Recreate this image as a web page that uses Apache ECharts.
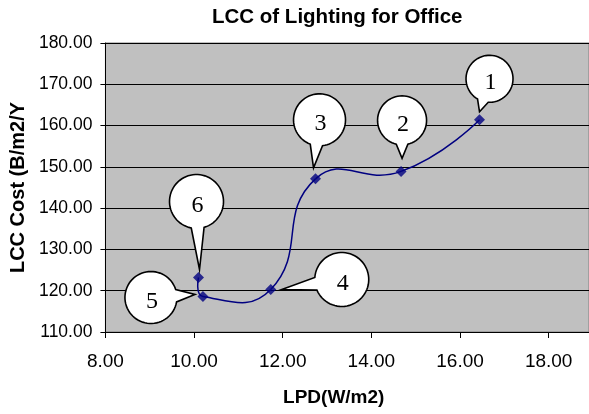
<!DOCTYPE html>
<html>
<head>
<meta charset="utf-8">
<title>LCC of Lighting for Office</title>
<script src="https://cdn.jsdelivr.net/npm/echarts@6/dist/echarts.min.js"></script>
<style>
  html, body { margin: 0; padding: 0; background: #ffffff; }
  #chart { width: 589px; height: 414px; }
</style>
</head>
<body>
<div id="chart"></div>
<script>
// Lighting power density (W/m2) of each design option
const lpd = [10.10, 10.20, 11.73, 12.74, 14.67, 16.44];
// Life-cycle cost of each option (B/m2/Y)
const lcc = [123.2, 118.6, 120.3, 147.1, 148.9, 161.4];
// Option numbers shown in the callouts
const optionIds = ['6', '5', '4', '3', '2', '1'];

// Axis ranges and tick steps
const xMin = 8, xMax = 18.91, xStep = 2;
const yMin = 110, yMax = 180, yStep = 10;

// Curve smoothing strength (0 = straight segments)
const smoothness = 0.5;

// Callout placement in pixels relative to each marker:
// circle centre offset (cx, cy), radius r, tail tip offset (tx, ty)
const callouts = [
  { cx: -2,  cy: -76, r: 27, tx: 1,  ty: -8 },
  { cx: -52, cy: 1,   r: 26, tx: -8, ty: -2 },
  { cx: 71,  cy: -10, r: 27, tx: 11, ty: 0 },
  { cx: 4,   cy: -59, r: 26, tx: -2, ty: -11 },
  { cx: 1,   cy: -51, r: 24.5, tx: 1, ty: -13 },
  { cx: 10,  cy: -41, r: 23.5, tx: 0, ty: -8 }
];

const points = lpd.map((x, i) => [x, lcc[i]]);

// Speech-bubble outline: circle with a wedge-shaped tail ending at `tip`
function balloonShape(c, r, tip) {
  const theta = Math.atan2(tip[1] - c[1], tip[0] - c[0]);
  const spread = 0.24;
  const pts = [];
  const steps = 64;
  const start = theta + spread;
  const end = theta - spread + Math.PI * 2;
  for (let k = 0; k <= steps; k++) {
    const a = start + (end - start) * k / steps;
    pts.push([c[0] + r * Math.cos(a), c[1] + r * Math.sin(a)]);
  }
  pts.push(tip);
  return pts;
}

// Bezier control point on the outgoing (dir = 1) or incoming (dir = -1) side
// of vertex i, tangent parallel to the chord between its neighbours and scaled
// by the relative length of the adjacent segment.
function controlPoint(px, i, dir) {
  const n = px.length;
  if (i === 0 || i === n - 1) return px[i];
  const prev = px[i - 1], cur = px[i], next = px[i + 1];
  const vx = next[0] - prev[0], vy = next[1] - prev[1];
  const lp = Math.hypot(cur[0] - prev[0], cur[1] - prev[1]);
  const ln = Math.hypot(next[0] - cur[0], next[1] - cur[1]);
  const ratio = dir > 0 ? ln / (lp + ln) : lp / (lp + ln);
  return [cur[0] + dir * vx * smoothness * ratio, cur[1] + dir * vy * smoothness * ratio];
}

const chart = echarts.init(document.getElementById('chart'), null, { renderer: 'canvas' });

const baseFont = 'Liberation Sans, Arial, sans-serif';

chart.setOption({
  animation: false,
  backgroundColor: '#ffffff',
  title: {
    text: 'LCC of Lighting for Office',
    left: 207,
    top: 2,
    textStyle: {
      fontFamily: baseFont,
      fontWeight: 'bold',
      fontSize: 20.5,
      color: '#000'
    }
  },
  grid: {
    left: 103, right: 0, top: 43, bottom: 82,
    show: true,
    backgroundColor: '#C0C0C0',
    borderColor: '#808080',
    borderWidth: 1
  },
  xAxis: {
    type: 'value',
    min: xMin, max: xMax, interval: xStep,
    name: 'LPD(W/m2)',
    nameLocation: 'middle',
    nameGap: 56,
    nameTextStyle: {
      fontFamily: baseFont,
      fontWeight: 'bold',
      fontSize: 19,
      color: '#000',
      padding: [0, 27, 0, 0]
    },
    axisLine: { show: true, lineStyle: { color: '#000', width: 1 } },
    axisTick: { show: true, length: 6, lineStyle: { color: '#000' } },
    splitLine: { show: false },
    axisLabel: {
      margin: 20,
      showMaxLabel: false,
      fontFamily: baseFont,
      fontSize: 19,
      color: '#000',
      formatter: v => (Math.abs(v / xStep - Math.round(v / xStep)) < 1e-6 ? v.toFixed(2) : '')
    }
  },
  yAxis: {
    type: 'value',
    min: yMin, max: yMax, interval: yStep,
    name: 'LCC Cost (B/m2/Y',
    nameLocation: 'middle',
    nameGap: 73,
    nameTextStyle: {
      fontFamily: baseFont,
      fontWeight: 'bold',
      fontSize: 20,
      color: '#000'
    },
    axisLine: { show: true, lineStyle: { color: '#000', width: 1 } },
    axisTick: { show: true, length: 5, lineStyle: { color: '#000' } },
    splitLine: { show: true, lineStyle: { color: '#000', width: 1 } },
    axisLabel: {
      margin: 13,
      fontFamily: baseFont,
      fontSize: 17.5,
      color: '#000',
      formatter: v => v.toFixed(2)
    }
  },
  series: [
    {
      // smoothed connecting curve, one Bezier segment per data point
      type: 'custom',
      coordinateSystem: 'cartesian2d',
      data: points,
      encode: { x: 0, y: 1 },
      z: 2,
      silent: true,
      renderItem: function (params, api) {
        const i = params.dataIndex;
        if (i >= points.length - 1) return { type: 'group', children: [] };
        const px = points.map(p => api.coord(p));
        const c1 = controlPoint(px, i, 1);
        const c2 = controlPoint(px, i + 1, -1);
        return {
          type: 'bezierCurve',
          shape: {
            x1: px[i][0], y1: px[i][1],
            x2: px[i + 1][0], y2: px[i + 1][1],
            cpx1: c1[0], cpy1: c1[1],
            cpx2: c2[0], cpy2: c2[1]
          },
          style: { stroke: '#000080', lineWidth: 1.5, fill: null }
        };
      }
    },
    {
      type: 'scatter',
      data: points,
      symbol: 'diamond',
      symbolSize: 11,
      itemStyle: { color: '#000080' },
      z: 3
    },
    {
      // numbered callouts
      type: 'custom',
      coordinateSystem: 'cartesian2d',
      data: points,
      encode: { x: 0, y: 1 },
      clip: false,
      z: 5,
      silent: true,
      renderItem: function (params, api) {
        const i = params.dataIndex;
        const p = api.coord([api.value(0), api.value(1)]);
        const b = callouts[i];
        const c = [p[0] + b.cx, p[1] + b.cy];
        const tip = [p[0] + b.tx, p[1] + b.ty];
        return {
          type: 'group',
          children: [
            {
              type: 'polygon',
              shape: { points: balloonShape(c, b.r, tip) },
              style: { fill: '#ffffff', stroke: '#000000', lineWidth: 1.6 }
            },
            {
              type: 'text',
              style: {
                x: c[0] + 1,
                y: c[1] + 4,
                text: optionIds[i],
                fill: '#000',
                font: '24px "Liberation Serif", "DejaVu Serif", serif',
                align: 'center',
                verticalAlign: 'middle'
              }
            }
          ]
        };
      }
    }
  ]
});
</script>
</body>
</html>
